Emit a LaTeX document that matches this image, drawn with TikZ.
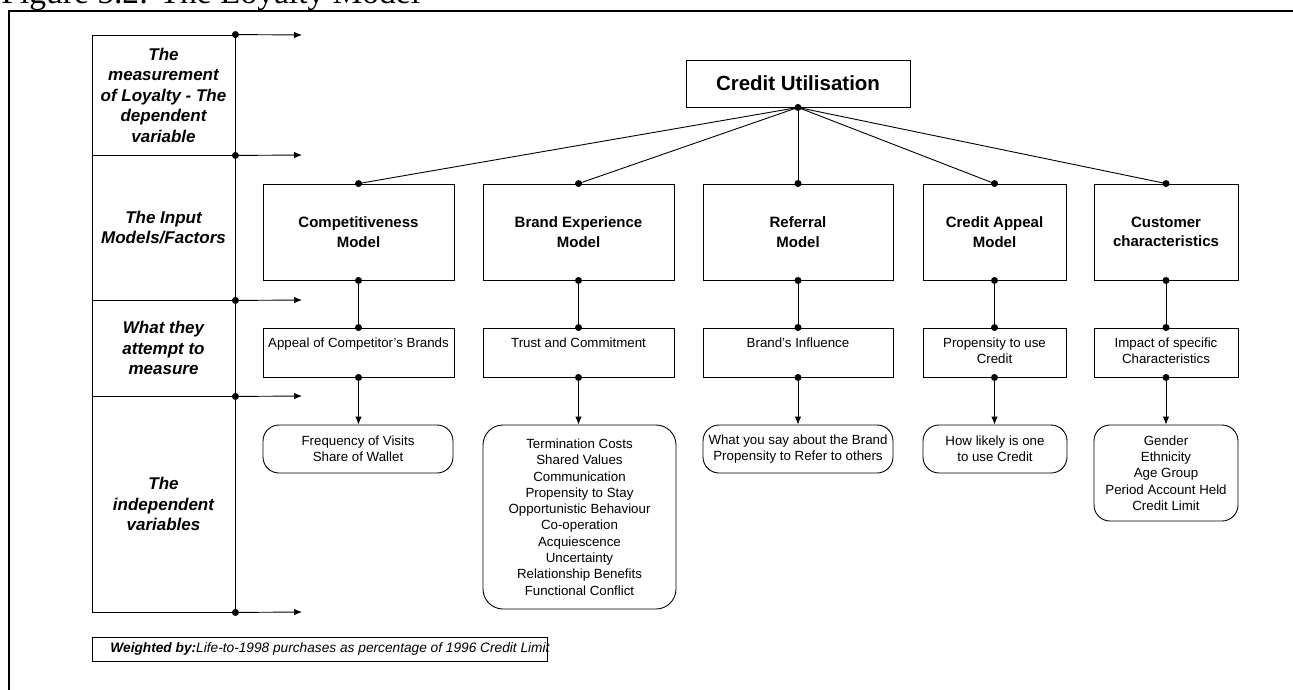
\documentclass[tikz,border=0pt]{standalone}
\usepackage{fontspec}
\setmainfont{Liberation Sans}
\newfontfamily\titlefont{Liberation Serif}
\usetikzlibrary{arrows.meta}

% top-aligned text inside a box of fixed height
\newcommand{\topbox}[2]{\parbox[c][49pt][t]{#1}{\centering\rule{0pt}{19.5pt}#2}}

\begin{document}
\begin{tikzpicture}[x=1pt,y=-1pt,
  line width=0.9pt,
  arr/.style={-{Latex[length=8pt,width=6.5pt]}},
  rowlabel/.style={draw, minimum width=143pt, inner sep=0pt, align=center,
    font=\fontsize{17}{20.5}\selectfont\bfseries\itshape},
  topbox/.style={draw, minimum height=47pt, minimum width=224pt, inner sep=0pt,
    font=\fontsize{20.5}{24}\selectfont\bfseries},
  modelbox/.style={draw, minimum height=96pt, inner sep=0pt, align=center,
    font=\fontsize{15}{19.5}\selectfont\bfseries},
  measbox/.style={draw, inner sep=0pt, font=\fontsize{13.3}{16.3}\selectfont},
  varbox/.style={draw, rounded corners=16pt, inner sep=0pt, align=center,
    font=\fontsize{13.3}{16.3}\selectfont},
  notebox/.style={draw, inner sep=0pt, minimum height=24pt, anchor=west,
    font=\fontsize{13.7}{16}\selectfont}
]
\useasboundingbox (0,0) rectangle (1293,690);

% page heading, cut by the top edge
\node[anchor=base west, inner sep=0pt, font=\titlefont\fontsize{33.5}{33.5}\selectfont]
  (title) at (1,4) {Figure 5.2: The Loyalty Model};

% outer frame
\draw[line width=2pt] (9,690) -- (9,11) -- (1293,11);

% left column of row descriptions
\node[rowlabel, minimum height=120pt] (s1) at (163.5,95)
  {The\\measurement\\of Loyalty - The\\dependent\\variable};
\node[rowlabel, minimum height=145pt] (s2) at (163.5,227.5)
  {The Input\\Models/Factors};
\node[rowlabel, minimum height=96pt] (s3) at (163.5,348)
  {What they\\attempt to\\measure};
\node[rowlabel, minimum height=216pt] (s4) at (163.5,504)
  {The\\independent\\variables};

\coordinate (a1) at (302,35);
\coordinate (a2) at (302,155);
\coordinate (a3) at (302,300);
\coordinate (a4) at (302,396);
\coordinate (a5) at (302,612);
\draw[arr] (s1.north east) -- (a1);
\draw[arr] (s1.south east) -- (a2);
\draw[arr] (s2.south east) -- (a3);
\draw[arr] (s3.south east) -- (a4);
\draw[arr] (s4.south east) -- (a5);
\foreach \p in {s1.north east, s1.south east, s2.south east, s3.south east, s4.south east}
  \fill (\p) circle (3.5pt);

% dependent variable
\node[topbox] (cu) at (798,83.5) {Credit Utilisation};

% input models
\node[modelbox, minimum width=191pt] (m1) at (358.5,232) {Competitiveness\\Model};
\node[modelbox, minimum width=191pt] (m2) at (578.5,232) {Brand Experience\\Model};
\node[modelbox, minimum width=190pt] (m3) at (798,232) {Referral\\Model};
\node[modelbox, minimum width=143pt] (m4) at (994.5,232) {Credit Appeal\\Model};
\node[modelbox, minimum width=144pt] (m5) at (1166,232) {Customer\\characteristics};

% what each model measures
\node[measbox] (c1) at (358.5,352.5) {\topbox{191pt}{Appeal of Competitor's Brands}};
\node[measbox] (c2) at (578.5,352.5) {\topbox{191pt}{Trust and Commitment}};
\node[measbox] (c3) at (798,352.5) {\topbox{190pt}{Brand's Influence}};
\node[measbox] (c4) at (994.5,352.5) {\topbox{143pt}{Propensity to use\\Credit}};
\node[measbox] (c5) at (1166,352.5) {\topbox{144pt}{Impact of specific\\Characteristics}};

% independent variables
\node[varbox, minimum width=190pt, minimum height=48pt] (b1) at (358,449)
  {Frequency of Visits\\Share of Wallet};
\node[varbox, rounded corners=20pt, minimum width=193pt, minimum height=184pt] (b2) at (579.5,517)
  {Termination Costs\\Shared Values\\Communication\\Propensity to Stay\\Opportunistic Behaviour\\Co-operation\\Acquiescence\\Uncertainty\\Relationship Benefits\\Functional Conflict};
\node[varbox, minimum width=190pt, minimum height=48pt] (b3) at (798,449)
  {What you say about the Brand\\Propensity to Refer to others};
\node[varbox, minimum width=144pt, minimum height=48pt] (b4) at (995,449)
  {How likely is one\\to use Credit};
\node[varbox, minimum width=144pt, minimum height=96pt] (b5) at (1166,473)
  {Gender\\Ethnicity\\Age Group\\Period Account Held\\Credit Limit};

% connectors: dependent variable to models
\foreach \m in {m1,m2,m3,m4,m5} {
  \draw (cu.south) -- (\m.north);
  \fill (\m.north) circle (3.5pt);
}
\fill (cu.south) circle (3.5pt);

% connectors: models to measures to variables
\foreach \i in {1,...,5} {
  \draw (m\i.south) -- (c\i.north);
  \fill (m\i.south) circle (3.5pt);
  \fill (c\i.north) circle (3.5pt);
  \draw[arr] (c\i.south) -- (c\i.south |- b\i.north);
  \fill (c\i.south) circle (3.5pt);
}

% weighting note
\node[notebox] (w) at (92,649)
  {\hspace{18pt}\makebox[437pt][l]{\textbf{\textit{Weighted by:}}\textit{Life-to-1998 purchases as percentage of 1996 Credit Limit}}};
\end{tikzpicture}
\end{document}
